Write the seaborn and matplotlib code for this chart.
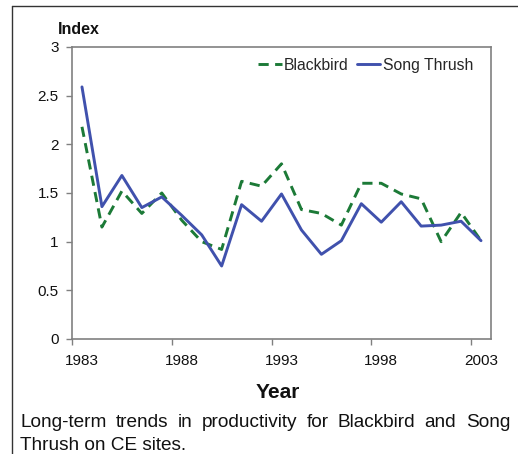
import numpy as np
import pandas as pd
import matplotlib
matplotlib.use("Agg")
import matplotlib.pyplot as plt
from matplotlib.lines import Line2D
import seaborn as sns

# ---- data ----
years = list(range(1983, 2004))
blackbird = [2.18, 1.15, 1.52, 1.29, 1.50, 1.22, 1.00, 0.92, 1.62, 1.57, 1.80,
             1.33, 1.29, 1.17, 1.60, 1.60, 1.49, 1.44, 1.00, 1.30, 1.01]
song_thrush = [2.59, 1.36, 1.68, 1.35, 1.46, 1.27, 1.07, 0.75, 1.38, 1.21, 1.49,
               1.12, 0.87, 1.01, 1.39, 1.20, 1.41, 1.16, 1.17, 1.21, 1.01]
year_labels = ["1983", "1988", "1993", "1998", "2003"]
y_ticks = [0, 0.5, 1, 1.5, 2, 2.5, 3]
y_labels = ["0", "0.5", "1", "1.5", "2", "2.5", "3"]
caption_lines = ["Long-term trends in productivity for Blackbird and Song",
                 "Thrush on CE sites."]

GREEN = "#1c7a37"
BLUE = "#4051ad"
GREY = "#808080"
TXT = "#111111"

sns.set_theme(style="white")
plt.rcParams["font.family"] = ["Liberation Sans", "DejaVu Sans"]

df = pd.DataFrame({"Year": years, "Blackbird": blackbird, "Song Thrush": song_thrush})

W, H = 518, 454
fig = plt.figure(figsize=(W / 100, H / 100), dpi=100)
ax = fig.add_axes([72 / W, 1 - 339 / H, 419 / W, 292 / H])

sns.lineplot(data=df, x="Year", y="Blackbird", ax=ax, color=GREEN, lw=2.1,
             linestyle=(0, (3.5, 2.2)), label="Blackbird")
sns.lineplot(data=df, x="Year", y="Song Thrush", ax=ax, color=BLUE, lw=2.1,
             label="Song Thrush")

ax.set_xlim(1982.5, 2003.5)
ax.set_ylim(0, 3)

# category labels at the centres, tick marks on the boundaries
ax.set_xticks([int(y) for y in year_labels])
ax.set_xticklabels(year_labels)
ax.set_xticks([int(y) - 0.5 for y in year_labels], minor=True)
ax.tick_params(axis="x", which="major", length=0, pad=11, labelsize=11, colors=TXT)
ax.tick_params(axis="x", which="minor", bottom=True, length=4, width=1, color=GREY)
ax.set_yticks(y_ticks)
ax.set_yticklabels(y_labels)
ax.tick_params(axis="y", which="major", left=True, length=4, width=1, color=GREY,
               pad=5.5, labelsize=11, labelcolor=TXT)

for s in ax.spines.values():
    s.set_color(GREY)
    s.set_linewidth(1.2)
    s.set_visible(True)

ax.set_xlabel("")
ax.set_ylabel("")

ax.legend(loc="center right", bbox_to_anchor=(0.957, 0.938), ncol=2, frameon=False,
          fontsize=11.3, handlelength=1.5, handletextpad=0.15, columnspacing=0.5,
          borderpad=0, borderaxespad=0)

fig.text(58 / W, 1 - 29 / H, "Index", fontsize=11.5, fontweight="bold",
         ha="left", va="center", color=TXT)
fig.text(278 / W, 1 - 392 / H, "Year", fontsize=15, fontweight="bold",
         ha="center", va="center", color=TXT)

# caption: first line justified between x=20 and x=510, second line left aligned
cap_size = 13.7
fig.canvas.draw()
renderer = fig.canvas.get_renderer()
words = caption_lines[0].split()
widths = []
for w in words:
    t = fig.text(0, 0, w, fontsize=cap_size)
    widths.append(t.get_window_extent(renderer).width)
    t.remove()
gap = (510 - 20 - sum(widths)) / (len(words) - 1)
x = 20
for w, wd in zip(words, widths):
    fig.text(x / W, 1 - 427.3 / H, w, fontsize=cap_size, ha="left",
             va="baseline", color=TXT)
    x += wd + gap
fig.text(20 / W, 1 - 450 / H, caption_lines[1], fontsize=cap_size, ha="left",
         va="baseline", color=TXT)

# outer frame of the figure panel
fig.add_artist(Line2D([11.5 / W, 1], [1 - 6 / H, 1 - 6 / H], color="#333333", lw=1.0))
fig.add_artist(Line2D([11.5 / W, 11.5 / W], [0, 1 - 6 / H], color="#333333", lw=1.0))

fig.savefig("out.png", dpi=100)
